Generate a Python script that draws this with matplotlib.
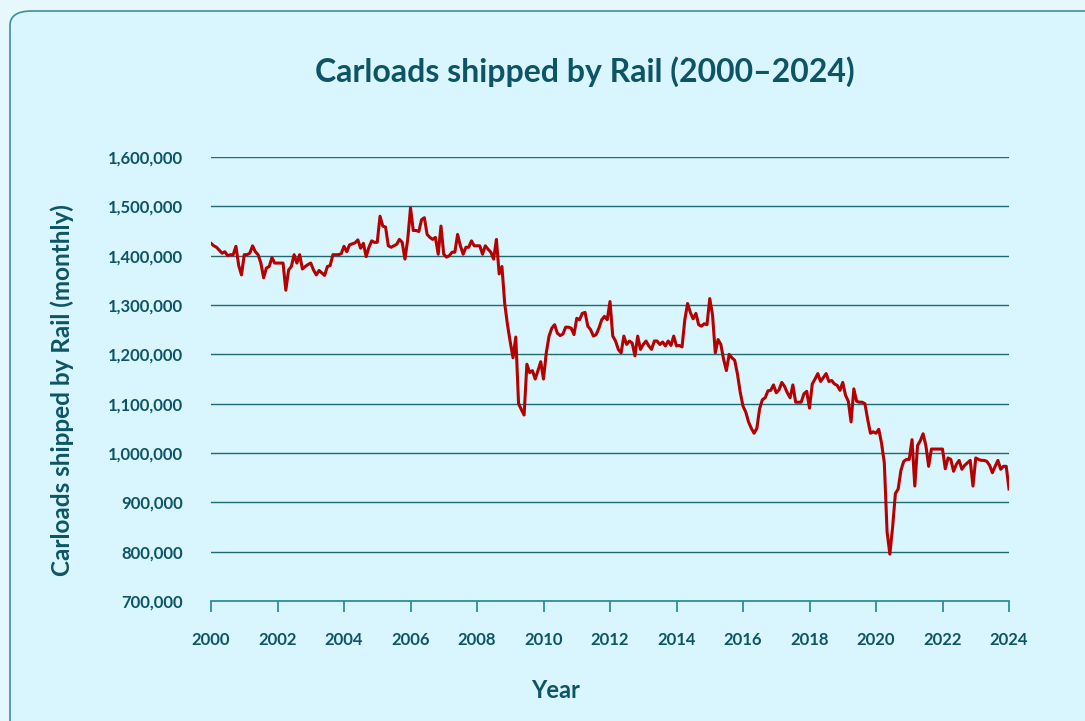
import matplotlib
matplotlib.use("Agg")
import matplotlib.pyplot as plt
from matplotlib.patches import FancyBboxPatch
from matplotlib.ticker import FuncFormatter

# monthly carloads (thousands), Jan 2000 .. Jan 2024
y2000 = [1425, 1420, 1417, 1411, 1405, 1408, 1400, 1402, 1402, 1419, 1380, 1361]
y2001 = [1402, 1402, 1405, 1420, 1408, 1402, 1385, 1355, 1375, 1378, 1396, 1385]
y2002 = [1385, 1385, 1385, 1330, 1371, 1378, 1402, 1385, 1402, 1373, 1378, 1382]
y2003 = [1385, 1371, 1361, 1370, 1365, 1360, 1378, 1380, 1402, 1402, 1402, 1404]
y2004 = [1419, 1408, 1422, 1424, 1426, 1432, 1415, 1425, 1398, 1417, 1430, 1427]
y2005 = [1427, 1480, 1460, 1458, 1420, 1417, 1420, 1423, 1433, 1427, 1393, 1433]
y2006 = [1497, 1451, 1451, 1449, 1473, 1477, 1443, 1437, 1433, 1437, 1403, 1460]
y2007 = [1403, 1397, 1400, 1407, 1407, 1443, 1420, 1403, 1417, 1417, 1430, 1420]
y2008 = [1420, 1420, 1403, 1420, 1413, 1407, 1393, 1433, 1363, 1378, 1303, 1260]
y2009 = [1225, 1193, 1235, 1100, 1088, 1077, 1180, 1163, 1167, 1150, 1167, 1185]
y2010 = [1150, 1203, 1237, 1253, 1260, 1243, 1238, 1241, 1255, 1255, 1253, 1240]
y2011 = [1273, 1270, 1283, 1285, 1257, 1250, 1237, 1240, 1253, 1270, 1277, 1270]
y2012 = [1307, 1237, 1227, 1210, 1203, 1237, 1220, 1227, 1223, 1197, 1237, 1210]
y2013 = [1220, 1227, 1217, 1210, 1227, 1227, 1220, 1225, 1217, 1227, 1218, 1237]
y2014 = [1217, 1218, 1215, 1270, 1303, 1285, 1272, 1283, 1260, 1257, 1262, 1260]
y2015 = [1313, 1280, 1203, 1230, 1220, 1190, 1167, 1200, 1193, 1188, 1160, 1123]
y2016 = [1095, 1083, 1063, 1050, 1040, 1050, 1090, 1108, 1112, 1126, 1127, 1138]
y2017 = [1122, 1128, 1143, 1135, 1122, 1112, 1138, 1103, 1103, 1103, 1120, 1125]
y2018 = [1091, 1140, 1150, 1161, 1145, 1153, 1161, 1145, 1147, 1140, 1137, 1127]
y2019 = [1143, 1117, 1105, 1063, 1130, 1105, 1103, 1103, 1100, 1068, 1040, 1043]
y2020 = [1040, 1048, 1020, 980, 840, 795, 850, 918, 927, 965, 983, 987]
y2021 = [987, 1027, 933, 1015, 1025, 1039, 1015, 973, 1008, 1008, 1008, 1008]
y2022 = [1008, 968, 990, 987, 963, 977, 985, 967, 975, 980, 985, 933]
y2023 = [990, 987, 985, 985, 983, 975, 960, 973, 985, 967, 973, 973]
y2024 = [927]

carloads = (y2000 + y2001 + y2002 + y2003 + y2004 + y2005 + y2006 + y2007 + y2008
            + y2009 + y2010 + y2011 + y2012 + y2013 + y2014 + y2015 + y2016 + y2017
            + y2018 + y2019 + y2020 + y2021 + y2022 + y2023 + y2024)
carloads = [v * 1000 for v in carloads]
years = [2000 + i / 12 for i in range(len(carloads))]

year_ticks = list(range(2000, 2025, 2))
value_ticks = list(range(700000, 1600001, 100000))

dark = "#0d5566"
teal = "#2b8e9d"
grid_col = "#1f6876"
font = ["Lato", "DejaVu Sans"]

fig = plt.figure(figsize=(10.85, 7.21), dpi=100)
fig.patch.set_facecolor("#e6f8fc")

# rounded card behind the chart
card = FancyBboxPatch((10 / 1085, -0.2), 1.2, 1.2 - 11 / 721,
                      boxstyle="round,pad=0,rounding_size=0.02",
                      transform=fig.transFigure, facecolor="#d9f6fe",
                      edgecolor="#3d8e9c", linewidth=1.2, zorder=-10)
fig.patches.append(card)

ax = fig.add_axes([211 / 1085, 120 / 721, 798 / 1085, 444 / 721])
ax.set_zorder(5)
ax.patch.set_visible(False)

ax.plot(years, carloads, color="#b50000", linewidth=2.2, zorder=3)

ax.set_xlim(2000, 2024)
ax.set_ylim(700000, 1600000)
ax.set_xticks(year_ticks)
ax.set_yticks(value_ticks)
ax.yaxis.set_major_formatter(FuncFormatter(lambda v, p: f"{int(v):,}"))

for v in value_ticks[1:]:
    ax.axhline(v, color=grid_col, linewidth=1.0, zorder=1)

for s in ["top", "right", "left"]:
    ax.spines[s].set_visible(False)
ax.spines["bottom"].set_color(teal)
ax.spines["bottom"].set_linewidth(1.3)

ax.tick_params(axis="y", length=0, pad=20, labelcolor=dark)
ax.tick_params(axis="x", length=8, width=1.3, color=teal, pad=14, labelcolor=dark)
for lab in ax.get_xticklabels() + ax.get_yticklabels():
    lab.set_family(font)
    lab.set_fontweight("bold")
    lab.set_fontsize(12)

fig.text(585 / 1085, 1 - 72 / 721, "Carloads shipped by Rail (2000–2024)",
         ha="center", va="center", fontsize=23, fontweight="bold",
         color=dark, family=font)
fig.text(556 / 1085, 1 - 691 / 721, "Year", ha="center", va="center",
         fontsize=17, fontweight="bold", color=dark, family=font)
fig.text(62 / 1085, 1 - 390 / 721, "Carloads shipped by Rail (monthly)",
         ha="center", va="center", rotation=90, fontsize=17.5,
         fontweight="bold", color=dark, family=font)

fig.savefig("out.png", dpi=100, facecolor=fig.get_facecolor())
